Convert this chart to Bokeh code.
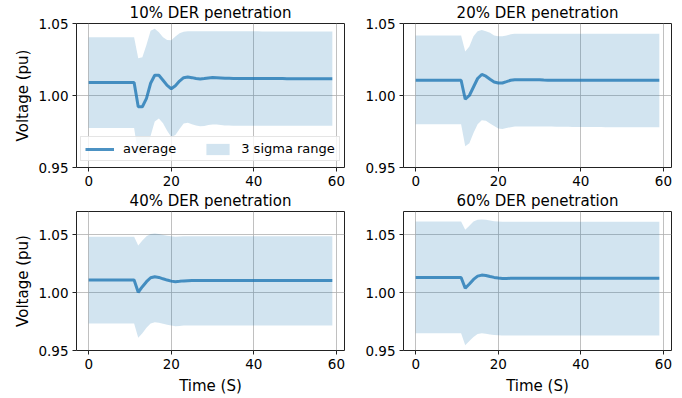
from bokeh.plotting import figure
from bokeh.layouts import column, row
from bokeh.models import Range1d, FixedTicker, PrintfTickFormatter, Legend, LegendItem, ColumnDataSource
from bokeh.embed import file_html
from bokeh.resources import INLINE

time_s = list(range(60))

titles = ["10% DER penetration", "20% DER penetration", "40% DER penetration", "60% DER penetration"]

avg_10 = [1.009, 1.009, 1.009, 1.009, 1.009, 1.009, 1.009, 1.009, 1.009, 1.009, 1.009, 1.009,
          0.9922, 0.9922, 0.998, 1.0085, 1.0141, 1.014, 1.0106, 1.007, 1.0047, 1.0068, 1.01, 1.0124,
          1.0128, 1.0124, 1.0118, 1.0115, 1.0118, 1.0122, 1.0125, 1.0124, 1.0122, 1.012, 1.0119, 1.0118,
          1.0118, 1.0118, 1.0118, 1.0118, 1.0118, 1.0118, 1.0118, 1.0118, 1.0118, 1.0118, 1.0118, 1.0118,
          1.0117, 1.0117, 1.0117, 1.0117, 1.0117, 1.0117, 1.0117, 1.0117, 1.0117, 1.0117, 1.0117, 1.0117]
hi_10 = [1.0405, 1.0405, 1.0405, 1.0405, 1.0405, 1.0405, 1.0405, 1.0405, 1.0405, 1.0405, 1.0405, 1.0405,
         1.0259, 1.0266, 1.0353, 1.045, 1.0463, 1.044, 1.0405, 1.0385, 1.0383, 1.041, 1.0432, 1.0442,
         1.0446, 1.0447, 1.0447, 1.0447, 1.0447, 1.0447, 1.0447, 1.0446, 1.0446, 1.0446, 1.0446, 1.0446,
         1.0446, 1.0446, 1.0446, 1.0446, 1.0446, 1.0446, 1.0445, 1.0445, 1.0445, 1.0445, 1.0445, 1.0445,
         1.0445, 1.0445, 1.0445, 1.0445, 1.0445, 1.0445, 1.0445, 1.0445, 1.0445, 1.0445, 1.0445, 1.0445]
lo_10 = [0.9775, 0.9775, 0.9775, 0.9775, 0.9775, 0.9775, 0.9775, 0.9775, 0.9775, 0.9775, 0.9775, 0.9775,
         0.9585, 0.9578, 0.9607, 0.972, 0.9819, 0.984, 0.9807, 0.9755, 0.9711, 0.9726, 0.9768, 0.9806,
         0.981, 0.9801, 0.9791, 0.9786, 0.9789, 0.9795, 0.9799, 0.9798, 0.9795, 0.9792, 0.9791, 0.979,
         0.979, 0.979, 0.979, 0.979, 0.979, 0.979, 0.979, 0.979, 0.979, 0.979, 0.979, 0.979,
         0.979, 0.979, 0.979, 0.979, 0.979, 0.979, 0.979, 0.979, 0.979, 0.979, 0.979, 0.979]

avg_20 = [1.0106, 1.0106, 1.0106, 1.0106, 1.0106, 1.0106, 1.0106, 1.0106, 1.0106, 1.0106, 1.0106, 1.0106,
          0.9974, 1.0, 1.0059, 1.0118, 1.0146, 1.0134, 1.0113, 1.0094, 1.0087, 1.0087, 1.0096, 1.0106,
          1.011, 1.0109, 1.0109, 1.0109, 1.0109, 1.0109, 1.0109, 1.0107, 1.0106, 1.0106, 1.0106, 1.0106,
          1.0106, 1.0106, 1.0106, 1.0106, 1.0106, 1.0106, 1.0106, 1.0106, 1.0106, 1.0106, 1.0106, 1.0106,
          1.0106, 1.0106, 1.0106, 1.0106, 1.0106, 1.0106, 1.0106, 1.0106, 1.0106, 1.0106, 1.0106, 1.0106]
hi_20 = [1.0416, 1.0416, 1.0416, 1.0416, 1.0416, 1.0416, 1.0416, 1.0416, 1.0416, 1.0416, 1.0416, 1.0416,
         1.0306, 1.0341, 1.0411, 1.0447, 1.0454, 1.0447, 1.0435, 1.0416, 1.0411, 1.0411, 1.0416, 1.0425,
         1.0428, 1.0428, 1.0428, 1.0428, 1.0428, 1.0428, 1.0428, 1.0428, 1.0428, 1.0428, 1.0428, 1.0428,
         1.0428, 1.0428, 1.0428, 1.0428, 1.0428, 1.0428, 1.0428, 1.0428, 1.0428, 1.0428, 1.0428, 1.0428,
         1.0428, 1.0428, 1.0428, 1.0428, 1.0428, 1.0428, 1.0428, 1.0428, 1.0428, 1.0428, 1.0428, 1.0428]
lo_20 = [0.98, 0.98, 0.98, 0.98, 0.98, 0.98, 0.98, 0.98, 0.98, 0.98, 0.98, 0.98,
         0.9648, 0.9668, 0.974, 0.98, 0.9828, 0.9824, 0.9805, 0.9788, 0.977, 0.9768, 0.9775, 0.978,
         0.9784, 0.9784, 0.9784, 0.9784, 0.9784, 0.9784, 0.9784, 0.9784, 0.9784, 0.9784, 0.9783, 0.9783,
         0.9783, 0.9783, 0.9782, 0.9782, 0.9782, 0.9782, 0.9781, 0.9781, 0.9781, 0.9781, 0.978, 0.978,
         0.978, 0.978, 0.978, 0.978, 0.978, 0.978, 0.978, 0.978, 0.978, 0.978, 0.978, 0.978]

avg_40 = [1.0108, 1.0108, 1.0108, 1.0108, 1.0108, 1.0108, 1.0108, 1.0108, 1.0108, 1.0108, 1.0108, 1.0108,
          1.0003, 1.0051, 1.0094, 1.0128, 1.0136, 1.0131, 1.0119, 1.0108, 1.0099, 1.0094, 1.0097, 1.0101,
          1.0103, 1.0104, 1.0104, 1.0105, 1.0105, 1.0105, 1.0104, 1.0104, 1.0104, 1.0104, 1.0104, 1.0104,
          1.0104, 1.0104, 1.0104, 1.0104, 1.0104, 1.0104, 1.0104, 1.0104, 1.0104, 1.0104, 1.0104, 1.0104,
          1.0104, 1.0104, 1.0104, 1.0104, 1.0104, 1.0104, 1.0104, 1.0104, 1.0104, 1.0104, 1.0104, 1.0104]
hi_40 = [1.0483, 1.0483, 1.0483, 1.0483, 1.0483, 1.0483, 1.0483, 1.0483, 1.0483, 1.0483, 1.0483, 1.0483,
         1.0406, 1.0449, 1.0486, 1.0506, 1.0511, 1.0506, 1.0497, 1.0491, 1.0486, 1.0483, 1.0485, 1.0487,
         1.0487, 1.0487, 1.0487, 1.0487, 1.0487, 1.0487, 1.0487, 1.0487, 1.0487, 1.0487, 1.0487, 1.0487,
         1.0487, 1.0487, 1.0487, 1.0487, 1.0487, 1.0487, 1.0487, 1.0487, 1.0487, 1.0487, 1.0487, 1.0487,
         1.0487, 1.0487, 1.0487, 1.0487, 1.0487, 1.0487, 1.0487, 1.0487, 1.0487, 1.0487, 1.0487, 1.0487]
lo_40 = [0.9733, 0.9733, 0.9733, 0.9733, 0.9733, 0.9733, 0.9733, 0.9733, 0.9733, 0.9733, 0.9733, 0.9733,
         0.961, 0.9648, 0.9696, 0.9733, 0.9744, 0.9739, 0.973, 0.9722, 0.9716, 0.971, 0.9712, 0.9715,
         0.9716, 0.9716, 0.9716, 0.9716, 0.9716, 0.9716, 0.9716, 0.9716, 0.9716, 0.9716, 0.9716, 0.9716,
         0.9716, 0.9716, 0.9716, 0.9716, 0.9716, 0.9716, 0.9716, 0.9716, 0.9716, 0.9716, 0.9716, 0.9716,
         0.9716, 0.9716, 0.9716, 0.9716, 0.9716, 0.9716, 0.9716, 0.9716, 0.9716, 0.9716, 0.9716, 0.9716]

avg_60 = [1.0131, 1.0131, 1.0131, 1.0131, 1.0131, 1.0131, 1.0131, 1.0131, 1.0131, 1.0131, 1.0131, 1.0131,
          1.0037, 1.0074, 1.0114, 1.0142, 1.0151, 1.0148, 1.0139, 1.0131, 1.0125, 1.0122, 1.0122, 1.0123,
          1.0124, 1.0124, 1.0124, 1.0124, 1.0124, 1.0124, 1.0124, 1.0124, 1.0124, 1.0124, 1.0124, 1.0124,
          1.0124, 1.0124, 1.0124, 1.0124, 1.0124, 1.0124, 1.0124, 1.0124, 1.0124, 1.0124, 1.0124, 1.0124,
          1.0124, 1.0124, 1.0124, 1.0124, 1.0124, 1.0124, 1.0124, 1.0124, 1.0124, 1.0124, 1.0124, 1.0124]
hi_60 = [1.0613, 1.0613, 1.0613, 1.0613, 1.0613, 1.0613, 1.0613, 1.0613, 1.0613, 1.0613, 1.0613, 1.0613,
         1.0542, 1.0577, 1.0613, 1.0628, 1.063, 1.0628, 1.0622, 1.0616, 1.0613, 1.0612, 1.0612, 1.0612,
         1.0612, 1.0612, 1.0612, 1.0612, 1.0612, 1.0612, 1.0612, 1.0612, 1.0612, 1.0612, 1.0612, 1.0612,
         1.0612, 1.0612, 1.0612, 1.0612, 1.0612, 1.0612, 1.0612, 1.0612, 1.0612, 1.0612, 1.0612, 1.0612,
         1.0612, 1.0612, 1.0612, 1.0612, 1.0612, 1.0612, 1.0612, 1.0612, 1.0612, 1.0612, 1.0612, 1.0612]
lo_60 = [0.9648, 0.9648, 0.9648, 0.9648, 0.9648, 0.9648, 0.9648, 0.9648, 0.9648, 0.9648, 0.9648, 0.9648,
         0.9546, 0.9583, 0.9617, 0.9642, 0.9648, 0.9645, 0.9639, 0.9634, 0.9631, 0.963, 0.963, 0.963,
         0.963, 0.963, 0.963, 0.963, 0.963, 0.963, 0.963, 0.963, 0.963, 0.963, 0.963, 0.963,
         0.963, 0.963, 0.963, 0.963, 0.963, 0.963, 0.963, 0.963, 0.963, 0.963, 0.963, 0.963,
         0.963, 0.963, 0.963, 0.963, 0.963, 0.963, 0.963, 0.963, 0.963, 0.963, 0.963, 0.963]

x_ticks = [0, 20, 40, 60]
y_ticks = [0.95, 1.00, 1.05]
y_limits_top = (0.95, 1.05)
y_limits_bottom = (0.95, 1.07)

FONT = "DejaVu Sans"
C0 = "#1f77b4"


def make_panel(title, avg, lo, hi, ylim, width, height, left_border, right_border,
               ylabel, xlabel, legend):
    p = figure(width=width, height=height, output_backend="svg", toolbar_location=None,
               x_range=Range1d(-2.95, 61.95), y_range=Range1d(*ylim),
               min_border_left=left_border, min_border_right=right_border,
               min_border_top=0, min_border_bottom=0)
    p.background_fill_color = "white"
    p.border_fill_color = "white"
    p.outline_line_color = "#222222"
    p.outline_line_width = 1

    p.title.text = title
    p.title.text_font = FONT
    p.title.text_font_size = "15px"
    p.title.text_font_style = "normal"
    p.title.text_color = "black"
    p.title.align = "center"
    p.title.standoff = 3

    src = ColumnDataSource(dict(t=time_s, avg=avg, lo=lo, hi=hi))
    band = p.varea(x="t", y1="lo", y2="hi", source=src, fill_color=C0, fill_alpha=0.2)
    line = p.line(x="t", y="avg", source=src, line_color=C0, line_alpha=0.8, line_width=3)

    for ax in (p.xaxis[0], p.yaxis[0]):
        ax.axis_line_color = None
        ax.major_tick_out = 4
        ax.major_tick_in = 0
        ax.minor_tick_out = 0
        ax.minor_tick_in = 0
        ax.major_tick_line_color = "#222222"
        ax.major_label_text_font = FONT
        ax.major_label_text_font_size = "13.5px"
        ax.major_label_text_color = "black"
        ax.major_label_standoff = 4
        ax.axis_label_text_font = FONT
        ax.axis_label_text_font_size = "15px"
        ax.axis_label_text_font_style = "normal"
        ax.axis_label_text_color = "black"
        ax.axis_label_standoff = 3
    p.xaxis.axis_label_standoff = 5
    p.xaxis.ticker = FixedTicker(ticks=x_ticks)
    p.yaxis.ticker = FixedTicker(ticks=y_ticks)
    p.yaxis.formatter = PrintfTickFormatter(format="%.2f")
    if ylabel:
        p.yaxis.axis_label = "Voltage (pu)"
    if xlabel:
        p.xaxis.axis_label = "Time (S)"

    p.grid.grid_line_color = "#b0b0b0"
    p.grid.grid_line_width = 0.8

    if legend:
        leg = Legend(items=[LegendItem(label="average", renderers=[line]),
                            LegendItem(label="3 sigma range", renderers=[band])],
                     orientation="horizontal", location=(4, 6), margin=0,
                     padding=4, spacing=27, glyph_width=29, glyph_height=14,
                     label_standoff=9, label_height=14,
                     label_text_font=FONT, label_text_font_size="13px",
                     label_text_color="black",
                     border_line_color="#cccccc", border_line_width=1,
                     background_fill_color="white", background_fill_alpha=0.8)
        p.add_layout(leg, "center")
    return p


p1 = make_panel(titles[0], avg_10, lo_10, hi_10, y_limits_top, 345, 188, 76, 1, True, False, True)
p2 = make_panel(titles[1], avg_20, lo_20, hi_20, y_limits_top, 336, 188, 58, 10, False, False, False)
p3 = make_panel(titles[2], avg_40, lo_40, hi_40, y_limits_bottom, 345, 209, 76, 1, True, True, False)
p4 = make_panel(titles[3], avg_60, lo_60, hi_60, y_limits_bottom, 336, 209, 58, 10, False, True, False)

layout = column(row(p1, p2), row(p3, p4))

open("out.html", "w").write(file_html(layout, INLINE))
